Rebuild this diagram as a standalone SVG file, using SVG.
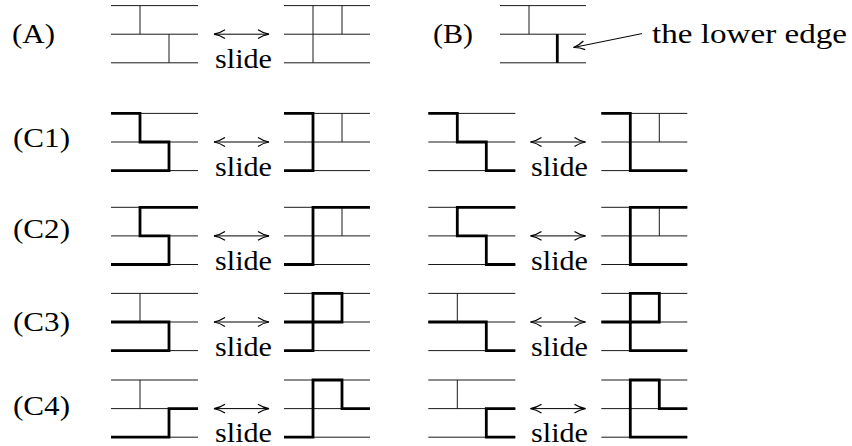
<svg xmlns="http://www.w3.org/2000/svg" width="852" height="446" viewBox="0 0 852 446">
<style>
.thin{fill:none;stroke:#1a1a1a;stroke-width:1}
.bold{fill:none;stroke:#000;stroke-width:2.8;stroke-linejoin:miter;stroke-linecap:butt}
.arr{fill:none;stroke:#000;stroke-width:1}
.t{font-family:'Liberation Serif','Times New Roman',Times,'DejaVu Serif','Noto Serif',serif;fill:#000}
</style>
<defs>
<marker id="chev" markerUnits="userSpaceOnUse" orient="auto-start-reverse" viewBox="-12 -6 13 12" refX="0" refY="0" markerWidth="13" markerHeight="12">
<path d="M -11 -4.4 C -7 -1.7 -3 -0.5 0 0 C -3 0.5 -7 1.7 -11 4.4" fill="none" stroke="#000" stroke-width="1.2"/>
</marker>
</defs>
<rect width="852" height="446" fill="#fff"/>

<!-- Row labels -->
<g id="labels" font-size="27">
<text class="t" x="12" y="42.5" textLength="43" lengthAdjust="spacingAndGlyphs">(A)</text>
<text class="t" x="433" y="42.5" textLength="40" lengthAdjust="spacingAndGlyphs">(B)</text>
<text class="t" x="13" y="146.5" textLength="57" lengthAdjust="spacingAndGlyphs">(C1)</text>
<text class="t" x="13" y="238" textLength="57" lengthAdjust="spacingAndGlyphs">(C2)</text>
<text class="t" x="13" y="330.5" textLength="57" lengthAdjust="spacingAndGlyphs">(C3)</text>
<text class="t" x="13" y="414.7" textLength="57" lengthAdjust="spacingAndGlyphs">(C4)</text>
<text class="t" x="652" y="42.7" font-size="28" textLength="195" lengthAdjust="spacingAndGlyphs">the lower edge</text>
</g>

<!-- Row A -->
<g id="A-left">
<path class="thin" d="M111 5.6H198M111 34.2H198M111 62.8H198M140 5.6V34.2M169 34.2V62.8"/>
</g>
<g id="A-right">
<path class="thin" d="M284 5.6H370M284 34.2H370M284 62.8H370M313 5.6V62.8M342 5.6V34.2"/>
</g>
<g id="B">
<path class="thin" d="M500 5.6H586M500 34.2H586M500 62.8H586M529 5.6V34.2"/>
<path class="bold" d="M557.3 34.2V62.8"/>
</g>

<!-- Row C1 -->
<g id="C1-a">
<path class="thin" d="M111 113.4H198M111 142H198M111 170.6H198"/>
<path class="bold" d="M111 113.4H140V142H169V170.6H111"/>
</g>
<g id="C1-b">
<path class="thin" d="M284 113.4H370M284 142H370M284 170.6H370M342 113.4V142"/>
<path class="bold" d="M284 113.4H313V170.6H284"/>
</g>
<g id="C1-c" transform="translate(317.3,0)">
<path class="thin" d="M111 113.4H198M111 142H198M111 170.6H198"/>
<path class="bold" d="M111 113.4H140V142H169V170.6H198"/>
</g>
<g id="C1-d" transform="translate(317.3,0)">
<path class="thin" d="M284 113.4H370M284 142H370M284 170.6H370M342 113.4V142"/>
<path class="bold" d="M284 113.4H313V170.6H370"/>
</g>

<!-- Row C2 -->
<g id="C2-a">
<path class="thin" d="M111 207.3H198M111 235.9H198M111 264.5H198"/>
<path class="bold" d="M111 264.5H169V235.9H140V207.3H198"/>
</g>
<g id="C2-b">
<path class="thin" d="M284 207.3H370M284 235.9H370M284 264.5H370M342 207.3V235.9"/>
<path class="bold" d="M284 264.5H313V207.3H370"/>
</g>
<g id="C2-c" transform="translate(317.3,0)">
<path class="thin" d="M111 207.3H198M111 235.9H198M111 264.5H198"/>
<path class="bold" d="M198 207.3H140V235.9H169V264.5H198"/>
</g>
<g id="C2-d" transform="translate(317.3,0)">
<path class="thin" d="M284 207.3H370M284 235.9H370M284 264.5H370M342 207.3V235.9"/>
<path class="bold" d="M370 207.3H313V264.5H370"/>
</g>

<!-- Row C3 -->
<g id="C3-a">
<path class="thin" d="M111 293.4H198M111 322H198M111 350.6H198M140 293.4V322"/>
<path class="bold" d="M111 322H169V350.6H111"/>
</g>
<g id="C3-b">
<path class="thin" d="M284 293.4H370M284 322H370M284 350.6H370"/>
<path class="bold" d="M284 322H342V293.4H313V350.6H284"/>
</g>
<g id="C3-c" transform="translate(317.3,0)">
<path class="thin" d="M111 293.4H198M111 322H198M111 350.6H198M140 293.4V322"/>
<path class="bold" d="M111 322H169V350.6H198"/>
</g>
<g id="C3-d" transform="translate(317.3,0)">
<path class="thin" d="M284 293.4H370M284 322H370M284 350.6H370"/>
<path class="bold" d="M284 322H342V293.4H313V350.6H370"/>
</g>

<!-- Row C4 -->
<g id="C4-a">
<path class="thin" d="M111 380H198M111 408.6H198M111 437.2H198M140 380V408.6"/>
<path class="bold" d="M111 437.2H169V408.6H198"/>
</g>
<g id="C4-b">
<path class="thin" d="M284 380H370M284 408.6H370M284 437.2H370"/>
<path class="bold" d="M284 437.2H313V380H342V408.6H370"/>
</g>
<g id="C4-c" transform="translate(317.3,0)">
<path class="thin" d="M111 380H198M111 408.6H198M111 437.2H198M140 380V408.6"/>
<path class="bold" d="M198 408.6H169V437.2H198"/>
</g>
<g id="C4-d" transform="translate(317.3,0)">
<path class="thin" d="M284 380H370M284 408.6H370M284 437.2H370"/>
<path class="bold" d="M370 408.6H342V380H313V437.2H370"/>
</g>

<!-- Connectors -->
<g id="connectors">
<path class="arr" d="M214 34.2H269" marker-start="url(#chev)" marker-end="url(#chev)"/>
<path class="arr" d="M214 142H269" marker-start="url(#chev)" marker-end="url(#chev)"/>
<path class="arr" d="M214 235.9H269" marker-start="url(#chev)" marker-end="url(#chev)"/>
<path class="arr" d="M214 322H269" marker-start="url(#chev)" marker-end="url(#chev)"/>
<path class="arr" d="M214 408.6H269" marker-start="url(#chev)" marker-end="url(#chev)"/>
<g transform="translate(316.5,0)">
<path class="arr" d="M214 142H269" marker-start="url(#chev)" marker-end="url(#chev)"/>
<path class="arr" d="M214 235.9H269" marker-start="url(#chev)" marker-end="url(#chev)"/>
<path class="arr" d="M214 322H269" marker-start="url(#chev)" marker-end="url(#chev)"/>
<path class="arr" d="M214 408.6H269" marker-start="url(#chev)" marker-end="url(#chev)"/>
</g>
<path class="arr" d="M642 33.6L573.5 47.5" marker-end="url(#chev)"/>
</g>

<!-- slide texts -->
<g id="slide-texts" font-size="27">
<text class="t" x="215" y="68.4" textLength="57" lengthAdjust="spacingAndGlyphs">slide</text>
<text class="t" x="215" y="176.2" textLength="57" lengthAdjust="spacingAndGlyphs">slide</text>
<text class="t" x="215" y="270.1" textLength="57" lengthAdjust="spacingAndGlyphs">slide</text>
<text class="t" x="215" y="356.2" textLength="57" lengthAdjust="spacingAndGlyphs">slide</text>
<text class="t" x="215" y="441.6" textLength="57" lengthAdjust="spacingAndGlyphs">slide</text>
<text class="t" x="531" y="176.2" textLength="57" lengthAdjust="spacingAndGlyphs">slide</text>
<text class="t" x="531" y="270.1" textLength="57" lengthAdjust="spacingAndGlyphs">slide</text>
<text class="t" x="531" y="356.2" textLength="57" lengthAdjust="spacingAndGlyphs">slide</text>
<text class="t" x="531" y="441.6" textLength="57" lengthAdjust="spacingAndGlyphs">slide</text>
</g>
</svg>
